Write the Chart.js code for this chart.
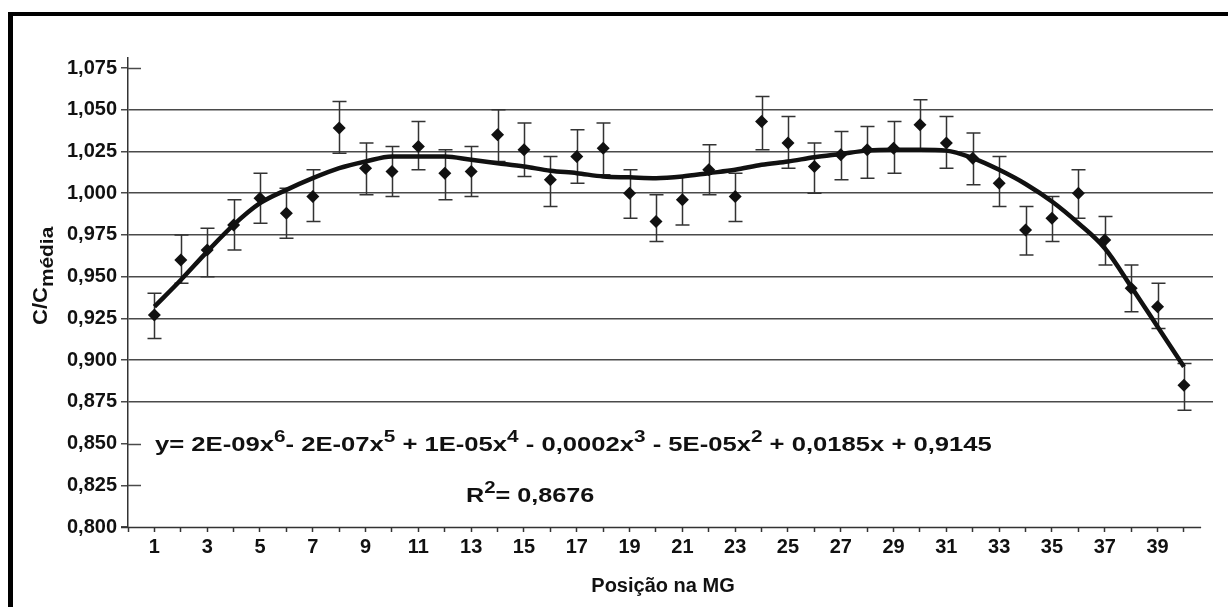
<!DOCTYPE html>
<html>
<head>
<meta charset="utf-8">
<script src="https://cdn.jsdelivr.net/npm/chart.js@4.4.1/dist/chart.umd.min.js"></script>
<style>
  html, body { margin: 0; padding: 0; background: #ffffff; }
  #wrap { position: relative; width: 1228px; height: 607px; }
  canvas { display: block; }
</style>
</head>
<body>
<div id="wrap"><canvas id="c" width="1228" height="607"></canvas></div>
<script>
// ---- data ----
const positions = [1,2,3,4,5,6,7,8,9,10,11,12,13,14,15,16,17,18,19,20,21,22,23,24,25,26,27,28,29,30,31,32,33,34,35,36,37,38,39,40];
const means = [0.927,0.960,0.966,0.981,0.997,0.988,0.998,1.039,1.015,1.013,1.028,1.012,1.013,1.035,1.026,1.008,1.022,1.027,1.000,0.983,0.996,1.014,0.998,1.043,1.030,1.016,1.023,1.026,1.027,1.041,1.030,1.021,1.006,0.978,0.985,1.000,0.972,0.943,0.932,0.885];
const errHigh = [0.940,0.975,0.979,0.996,1.012,1.003,1.014,1.055,1.030,1.028,1.043,1.026,1.028,1.050,1.042,1.022,1.038,1.042,1.014,0.999,1.010,1.029,1.012,1.058,1.046,1.030,1.037,1.040,1.043,1.056,1.046,1.036,1.022,0.992,0.998,1.014,0.986,0.957,0.946,0.898];
const errLow = [0.913,0.946,0.950,0.966,0.982,0.973,0.983,1.024,0.999,0.998,1.014,0.996,0.998,1.019,1.010,0.992,1.006,1.011,0.985,0.971,0.981,0.999,0.983,1.026,1.015,1.000,1.008,1.009,1.012,1.026,1.015,1.005,0.992,0.963,0.971,0.985,0.957,0.929,0.919,0.870];
const trend = [0.932,0.948,0.965,0.981,0.994,1.002,1.009,1.015,1.019,1.022,1.022,1.022,1.020,1.018,1.016,1.0135,1.012,1.010,1.0095,1.009,1.010,1.012,1.014,1.017,1.019,1.0215,1.0235,1.0255,1.026,1.026,1.0255,1.021,1.014,1.0055,0.995,0.982,0.967,0.944,0.920,0.896];
const yTicks = [0.800,0.825,0.850,0.875,0.900,0.925,0.950,0.975,1.000,1.025,1.050,1.075];
const yStubOnly = [0.800,0.825,0.850,1.075];
const xTicks = [0,1,2,3,4,5,6,7,8,9,10,11,12,13,14,15,16,17,18,19,20,21,22,23,24,25,26,27,28,29,30,31,32,33,34,35,36,37,38,39,40];
const xTitle = 'Posição na MG';
const yTitleMain = 'C/C';
const yTitleSub = 'média';
const eqParts = [
  ['y= 2E-09x', 0], ['6', 1], ['- 2E-07x', 0], ['5', 1], [' + 1E-05x', 0], ['4', 1],
  [' - 0,0002x', 0], ['3', 1], [' - 5E-05x', 0], ['2', 1], [' + 0,0185x + 0,9145', 0]
];
const r2Parts = [['R', 0], ['2', 1], ['= 0,8676', 0]];

const FONT = "'Liberation Sans', Arial, sans-serif";
const INK = '#111111';
const GRID = '#4a4a4a';

function drawRich(ctx, x, y, parts, sx) {
  ctx.save();
  ctx.translate(x, y);
  ctx.scale(sx, 1);
  let cx = 0;
  for (const [t, sup] of parts) {
    ctx.font = sup ? 'bold 17px ' + FONT : 'bold 21px ' + FONT;
    ctx.fillText(t, cx, sup ? -9 : 0);
    cx += ctx.measureText(t).width;
  }
  ctx.restore();
}

const decor = {
  id: 'decor',
  beforeDatasetsDraw(chart) {
    const ctx = chart.ctx, xs = chart.scales.x, ys = chart.scales.y;
    ctx.save();
    ctx.strokeStyle = GRID; ctx.lineWidth = 1.5;
    for (const v of yStubOnly) {
      if (v === 0.8) continue;
      const py = Math.round(ys.getPixelForValue(v)) + 0.5;
      ctx.beginPath(); ctx.moveTo(xs.left, py); ctx.lineTo(xs.left + 13, py); ctx.stroke();
    }
    ctx.strokeStyle = '#333'; ctx.lineWidth = 1.5;
    const by = Math.round(ys.getPixelForValue(0.8)) + 0.5;
    ctx.beginPath(); ctx.moveTo(xs.left - 7, by); ctx.lineTo(xs.getPixelForValue(40.65), by); ctx.stroke();
    ctx.strokeStyle = '#333'; ctx.lineWidth = 1.5;
    for (let i = 0; i < positions.length; i++) {
      const px = Math.round(xs.getPixelForValue(positions[i])) + 0.5;
      const yt = ys.getPixelForValue(errHigh[i]);
      const yb = ys.getPixelForValue(errLow[i]);
      ctx.beginPath();
      ctx.moveTo(px, yt); ctx.lineTo(px, yb);
      ctx.moveTo(px - 7, yt); ctx.lineTo(px + 7, yt);
      ctx.moveTo(px - 7, yb); ctx.lineTo(px + 7, yb);
      ctx.stroke();
    }
    ctx.restore();
  },
  afterDraw(chart) {
    const ctx = chart.ctx;
    ctx.save();
    ctx.fillStyle = '#000';
    ctx.fillRect(8, 12, 5, 595);
    ctx.fillRect(8, 12, 1220, 4);
    ctx.textBaseline = 'alphabetic'; ctx.textAlign = 'left';
    ctx.fillStyle = INK;
    drawRich(ctx, 155, 451, eqParts, 1.22);
    drawRich(ctx, 466, 502, r2Parts, 1.2);
    ctx.font = 'bold 20px ' + FONT;
    ctx.textAlign = 'center';
    ctx.fillText(xTitle, 663, 592);
    ctx.translate(47, 325);
    ctx.rotate(-Math.PI / 2);
    ctx.scale(1.1, 1);
    ctx.textAlign = 'left';
    ctx.font = 'bold 20px ' + FONT;
    ctx.fillText(yTitleMain, 0, 0);
    const w = ctx.measureText(yTitleMain).width;
    ctx.font = 'bold 19px ' + FONT;
    ctx.fillText(yTitleSub, w, 6);
    ctx.restore();
  }
};

new Chart(document.getElementById('c'), {
  type: 'scatter',
  data: {
    datasets: [
      {
        label: 'trend',
        type: 'line',
        data: positions.map((x, i) => ({ x: x, y: trend[i] })),
        borderColor: INK,
        borderWidth: 4.5,
        pointRadius: 0,
        tension: 0.4,
        cubicInterpolationMode: 'monotone',
        fill: false,
        order: 0
      },
      {
        label: 'C/Cmédia',
        data: positions.map((x, i) => ({ x: x, y: means[i] })),
        pointStyle: 'rectRot',
        pointRadius: 6.5,
        backgroundColor: INK,
        borderColor: INK,
        borderWidth: 0,
        showLine: false,
        order: 1
      }
    ]
  },
  options: {
    responsive: false,
    animation: false,
    layout: { padding: { left: 0, right: 15, top: 58, bottom: 0 } },
    plugins: { legend: { display: false }, tooltip: { enabled: false } },
    scales: {
      x: {
        type: 'linear',
        min: 0,
        max: 41.1,
        afterBuildTicks: (s) => { s.ticks = xTicks.map(v => ({ value: v })); },
        afterFit: (s) => { s.height = 80; },
        border: { display: false },
        grid: { drawOnChartArea: false, drawTicks: true, tickLength: 5, tickColor: '#333', tickWidth: 1.5 },
        ticks: {
          autoSkip: false, maxRotation: 0, padding: 3, color: INK,
          font: { family: FONT, size: 20, weight: 'bold' },
          callback: (v) => (v % 2 === 1 ? String(v) : '')
        }
      },
      y: {
        min: 0.8,
        max: 1.081,
        afterBuildTicks: (s) => { s.ticks = yTicks.map(v => ({ value: v })); },
        afterFit: (s) => { s.width = 128; },
        border: { display: true, color: '#333', width: 1.5 },
        grid: {
          color: (c) => (c.tick && yStubOnly.some(v => Math.abs(v - c.tick.value) < 1e-6) ? 'rgba(0,0,0,0)' : GRID),
          tickColor: GRID,
          lineWidth: 1.5,
          tickLength: 7,
          drawTicks: true
        },
        ticks: {
          padding: 4, color: INK,
          font: { family: FONT, size: 20, weight: 'bold' },
          callback: (v) => Number(v).toFixed(3).replace('.', ',')
        }
      }
    }
  },
  plugins: [decor]
});
</script>
</body>
</html>
